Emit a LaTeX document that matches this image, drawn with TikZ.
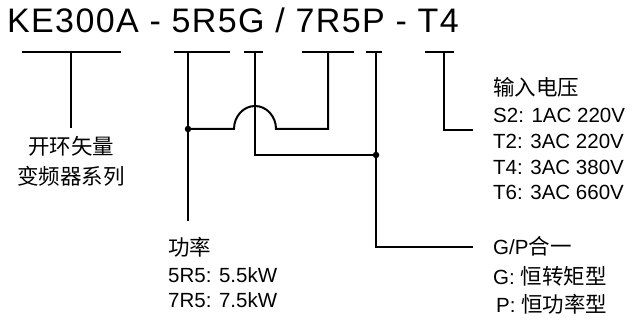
\documentclass[tikz,border=0pt]{standalone}
\usepackage{fontspec}
\setmainfont{Liberation Sans}
\newfontfamily\cjk{Noto Sans CJK SC}
\begin{document}
\begin{tikzpicture}[x=1pt,y=-1pt,
  wire/.style={line width=2pt},
  lbl/.style={anchor=base west,inner sep=0pt,font=\fontsize{20.5}{24}\selectfont},
  clbl/.style={anchor=base,inner sep=0pt,font=\fontsize{21.5}{24}\selectfont\cjk},
  junction/.style={circle,fill=black,inner sep=0pt,minimum size=6.5pt}]
\useasboundingbox (0,0) rectangle (632,320);
\node[anchor=base west,inner sep=0pt,font={\addfontfeature{LetterSpace=4}\fontsize{34}{36}\selectfont}] (title) at (7,33) {KE300A - 5R5G / 7R5P - T4};
% labels
\node[clbl] (s1) at (71,155) {开环矢量};
\node[clbl] (s2) at (71,185) {变频器系列};
\node[lbl] (p0) at (168,256) {{\cjk\fontsize{21.5}{24}\selectfont 功率}};
\node[lbl] (p1) at (168,283) {5R5: 5.5kW};
\node[lbl] (p2) at (168,308) {7R5: 7.5kW};
\node[lbl] (v0) at (493,96) {{\cjk\fontsize{21.5}{24}\selectfont 输入电压}};
\node[lbl] (v1) at (493,123) {S2: 1AC 220V};
\node[lbl] (v2) at (493,149) {T2: 3AC 220V};
\node[lbl] (v3) at (493,175) {T4: 3AC 380V};
\node[lbl] (v4) at (493,200) {T6: 3AC 660V};
\node[lbl] (g0) at (493,255) {G/P{\cjk\fontsize{21.5}{24}\selectfont 合一}};
\node[lbl] (g1) at (493,285) {G: {\cjk\fontsize{21.5}{24}\selectfont 恒转矩型}};
\node[lbl] (g2) at (496,313) {P: {\cjk\fontsize{21.5}{24}\selectfont 恒功率型}};
% coordinates
\coordinate (b1a) at (22,52);  \coordinate (b1b) at (121,52); \coordinate (b1m) at (71,52);  \coordinate (b1e) at (71,128);
\coordinate (b2a) at (174,52); \coordinate (b2b) at (230,52); \coordinate (b2m) at (188,52); \coordinate (b2e) at (188,221);
\coordinate (b3a) at (244,52); \coordinate (b3b) at (263,52); \coordinate (b3m) at (255,52); \coordinate (b3c) at (255,155);
\coordinate (b4a) at (302,52); \coordinate (b4b) at (354,52); \coordinate (b4m) at (328,52); \coordinate (b4c) at (328,129);
\coordinate (b5a) at (366,52); \coordinate (b5b) at (382,52); \coordinate (b5m) at (376,52); \coordinate (b5c) at (376,247);
\coordinate (b6a) at (425,52); \coordinate (b6b) at (454,52); \coordinate (b6m) at (444,52); \coordinate (b6c) at (444,130);
\coordinate (ge) at (473,247); \coordinate (ve) at (473,130);
\node[junction] (j1) at (188,129) {};
\node[junction] (j2) at (376,155) {};
% bars
\draw[wire] (b1a) -- (b1b); \draw[wire] (b1m) -- (b1e);
\draw[wire] (b2a) -- (b2b); \draw[wire] (b2m) -- (b2e);
\draw[wire] (b3a) -- (b3b); \draw[wire] (b3m) -- (b3c) -- (j2.center);
\draw[wire] (b4a) -- (b4b); \draw[wire] (b4m) -- (b4c) -- (276,129) arc[start angle=0,end angle=-180,x radius=21,y radius=23] -- (j1.center);
\draw[wire] (b5a) -- (b5b); \draw[wire] (b5m) -- (b5c) -- (ge);
\draw[wire] (b6a) -- (b6b); \draw[wire] (b6m) -- (b6c) -- (ve);
\end{tikzpicture}
\end{document}
